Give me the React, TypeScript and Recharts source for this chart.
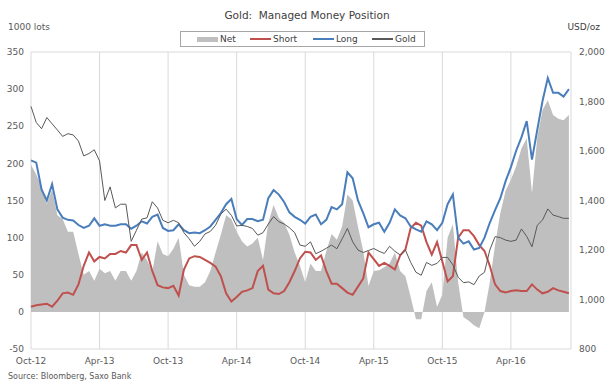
import React from 'react';
import { ComposedChart, Area, Line, XAxis, YAxis, CartesianGrid } from 'recharts';

// biweekly CFTC managed money, Oct-12 .. Sep-16 (1000 lots), gold in USD/oz
const net = [
  198, 185, 168, 145, 165, 130, 125, 108, 108, 78, 50, 55, 42, 58, 52, 55, 42, 55, 55, 42, 55,
  80, 70, 54, 95, 78, 75, 85, 100, 50, 36, 34, 34, 40, 55, 80, 104, 130, 125, 108, 95,
  88, 92, 100, 70, 120, 144, 126, 120, 104, 80, 62, 40, 65, 55, 55, 82, 105, 97, 115, 158,
  150, 115, 82, 35, 55, 56, 60, 65, 80, 55, 48, 20, -10, -10, 28, 40, 7, 23, 100, 118,
  40, -7, -12, -18, -22, 0, 40, 90, 133, 163, 178, 196, 220, 234, 160, 235, 272, 285, 265, 260,
  258, 265,
];
const short = [
  7, 9, 10, 11, 7, 15, 25, 26, 23, 37, 62, 80, 68, 74, 72, 78, 78, 82, 80, 90, 90,
  70, 80, 55, 36, 33, 32, 35, 22, 57, 72, 75, 74, 70, 66, 61, 48, 25, 14, 20, 27,
  29, 32, 55, 62, 30, 25, 24, 28, 40, 55, 72, 81, 80, 70, 76, 55, 38, 38, 32, 26,
  23, 34, 45, 80, 71, 62, 66, 62, 57, 76, 84, 113, 120, 116, 94, 77, 94, 68, 41, 48,
  100, 110, 110, 102, 90, 82, 62, 37, 28, 26, 28, 29, 28, 28, 37, 30, 25, 27, 32, 29,
  27, 25,
];
const long = [
  204, 201, 165, 150, 172, 138, 127, 124, 123, 117, 113, 116, 126, 116, 118, 116, 116, 118, 118, 112, 116,
  122, 119, 128, 131, 113, 109, 110, 118, 110, 106, 107, 106, 110, 115, 124, 133, 145, 152, 125, 117,
  125, 125, 122, 124, 153, 164, 158, 148, 134, 128, 124, 119, 128, 131, 118, 124, 141, 138, 145, 188,
  180, 150, 133, 114, 118, 120, 108, 120, 138, 130, 126, 115, 111, 108, 122, 118, 110, 120, 145, 158,
  100, 92, 95, 84, 86, 100, 120, 137, 153, 176, 195, 217, 235, 257, 205, 245, 284, 315, 295, 295,
  290, 300,
];
const gold = [
  1780, 1715, 1690, 1735, 1710, 1685, 1659, 1670, 1665, 1640, 1580, 1590, 1605, 1560, 1400, 1455, 1370, 1385, 1385, 1235, 1280,
  1325, 1330, 1395, 1370, 1320, 1310, 1320, 1310, 1270, 1245, 1215, 1235, 1265, 1275, 1300, 1345, 1365, 1340, 1297, 1300,
  1295, 1287, 1260, 1270, 1305, 1335, 1314, 1305, 1290, 1270, 1220, 1215, 1233, 1185, 1195, 1207, 1220, 1205, 1245, 1287,
  1233, 1200, 1190, 1198, 1206, 1195, 1186, 1215, 1195, 1180, 1200, 1150, 1110, 1098, 1150, 1138, 1146, 1170, 1170, 1140,
  1090, 1068, 1071, 1060, 1095, 1110, 1200, 1254, 1250, 1240, 1235, 1240, 1285, 1255, 1213, 1300, 1321, 1366, 1341, 1335,
  1328, 1328,
];

const tickLabels = ['Oct-12', 'Apr-13', 'Oct-13', 'Apr-14', 'Oct-14', 'Apr-15', 'Oct-15', 'Apr-16'];
const tickIdx = tickLabels.map((_, k) => k * 13);
const leftTicks = [-50, 0, 50, 100, 150, 200, 250, 300, 350];
const rightTicks = [800, 1000, 1200, 1400, 1600, 1800, 2000];

const data = net.map((v, i) => ({ i, net: v, short: short[i], long: long[i], gold: gold[i] }));

const FONT = '"DejaVu Sans", Verdana, sans-serif';
const TXT = '#595959';
const tick = { fill: TXT, fontSize: 9, fontFamily: FONT };

const legendItems = [
  { name: 'Net', color: '#bfbfbf', box: true, x: 16 },
  { name: 'Short', color: '#c0504d', box: false, x: 69 },
  { name: 'Long', color: '#4a7ebb', box: false, x: 132 },
  { name: 'Gold', color: '#595959', box: false, x: 191 },
];

export default function App() {
  return (
    <div style={{ position: 'absolute', left: 0, top: 0, width: 614, height: 384, background: '#fff', fontFamily: FONT }}>
      <div style={{ position: 'absolute', left: 0, width: 614, top: 9, textAlign: 'center', fontSize: 10.5, color: '#404040' }}>
        Gold:&nbsp; Managed Money Position
      </div>
      <div style={{ position: 'absolute', left: 8, top: 22, fontSize: 9, color: TXT }}>1000 lots</div>
      <div style={{ position: 'absolute', right: 14, top: 22, fontSize: 9, color: '#404040' }}>USD/oz</div>

      <div style={{ position: 'absolute', left: 180, top: 31, width: 245, height: 16, border: '1px solid #a6a6a6', boxSizing: 'border-box' }}>
        {legendItems.map((it) => (
          <div key={it.name} style={{ position: 'absolute', left: it.x, top: 0, height: 14, display: 'flex', alignItems: 'center', fontSize: 9, color: '#404040' }}>
            <span style={{ display: 'inline-block', width: 21, height: it.box ? 5 : 2, background: it.color, marginRight: 2 }} />
            {it.name}
          </div>
        ))}
      </div>

      <ComposedChart width={614} height={384} data={data} margin={{ top: 52, right: 0, bottom: 0, left: 0 }}>
        <CartesianGrid stroke="#d9d9d9" verticalPoints={undefined} />
        <XAxis
          dataKey="i"
          type="number"
          domain={[0, 102.4]}
          ticks={tickIdx}
          tickFormatter={(v) => tickLabels[Math.round(v / 13)] ?? ''}
          axisLine={false}
          tickLine={false}
          tickSize={0}
          tickMargin={9}
          height={35}
          tick={tick}
          interval={0}
        />
        <YAxis
          yAxisId="l"
          domain={[-50, 350]}
          ticks={leftTicks}
          axisLine={false}
          tickLine={false}
          tickSize={0}
          tickMargin={7}
          width={31}
          tick={tick}
          interval={0}
        />
        <YAxis
          yAxisId="r"
          orientation="right"
          domain={[800, 2000]}
          ticks={rightTicks}
          tickFormatter={(v) => v.toLocaleString('en-US')}
          axisLine={false}
          tickLine={false}
          tickSize={0}
          tickMargin={8}
          width={43}
          tick={tick}
          interval={0}
        />
        <Area yAxisId="l" type="linear" dataKey="net" fill="#bfbfbf" fillOpacity={1} stroke="none" baseValue={0} isAnimationActive={false} />
        <Line yAxisId="l" type="linear" dataKey="short" stroke="#c0504d" strokeWidth={2} dot={false} isAnimationActive={false} />
        <Line yAxisId="l" type="linear" dataKey="long" stroke="#4a7ebb" strokeWidth={2} dot={false} isAnimationActive={false} />
        <Line yAxisId="r" type="linear" dataKey="gold" stroke="#595959" strokeWidth={1} dot={false} isAnimationActive={false} />
      </ComposedChart>

      <div style={{ position: 'absolute', left: 8, top: 372, fontSize: 8, color: TXT }}>Source: Bloomberg, Saxo Bank</div>
    </div>
  );
}
